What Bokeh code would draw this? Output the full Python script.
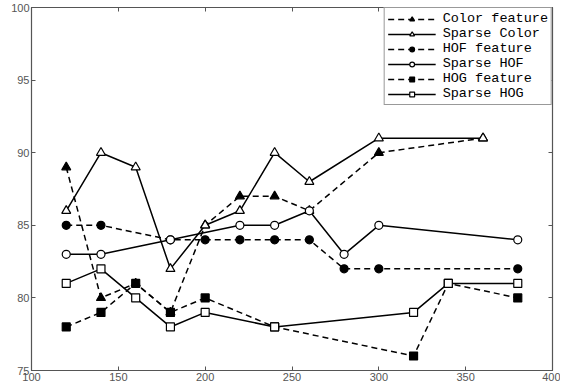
from bokeh.plotting import figure
from bokeh.models import LinearAxis, Range1d, FixedTicker
from bokeh.embed import file_html
from bokeh.resources import INLINE

# ---- data ----
color_x = [120, 140, 160, 180, 200, 220, 240, 260, 300, 360]
color_y = [89, 80, 81, 79, 85, 87, 87, 86, 90, 91]

sp_color_x = [120, 140, 160, 180, 200, 220, 240, 260, 300, 360]
sp_color_y = [86, 90, 89, 82, 85, 86, 90, 88, 91, 91]

hof_x = [120, 140, 180, 200, 220, 240, 260, 280, 300, 380]
hof_y = [85, 85, 84, 84, 84, 84, 84, 82, 82, 82]

sp_hof_x = [120, 140, 180, 220, 240, 260, 280, 300, 380]
sp_hof_y = [83, 83, 84, 85, 85, 86, 83, 85, 84]

hog_x = [120, 140, 160, 180, 200, 240, 320, 340, 380]
hog_y = [78, 79, 81, 79, 80, 78, 76, 81, 80]

sp_hog_x = [120, 140, 160, 180, 200, 240, 320, 340, 380]
sp_hog_y = [81, 82, 80, 78, 79, 78, 79, 81, 81]

x_ticks = [100, 150, 200, 250, 300, 350, 400]
y_ticks = [75, 80, 85, 90, 95, 100]

series = [
    ("Color feature", color_x, color_y, "triangle", True, "dashed"),
    ("Sparse Color", sp_color_x, sp_color_y, "triangle", False, "solid"),
    ("HOF feature", hof_x, hof_y, "circle", True, "dashed"),
    ("Sparse HOF", sp_hof_x, sp_hof_y, "circle", False, "solid"),
    ("HOG feature", hog_x, hog_y, "square", True, "dashed"),
    ("Sparse HOG", sp_hog_x, sp_hog_y, "square", False, "solid"),
]

p = figure(width=560, height=391, output_backend="svg", toolbar_location=None,
           x_range=Range1d(100, 400), y_range=Range1d(75, 100),
           min_border_left=31, min_border_right=8, min_border_top=7,
           min_border_bottom=21)
p.xgrid.visible = False
p.ygrid.visible = False
p.outline_line_color = "#555555"
p.outline_line_width = 1.2
p.background_fill_color = "white"
p.border_fill_color = "white"

for ax in (p.xaxis[0], p.yaxis[0]):
    ax.axis_line_color = "#555555"
    ax.major_tick_in = 4
    ax.major_tick_out = 0
    ax.minor_tick_line_color = None
    ax.major_tick_line_color = "#555555"
    ax.major_label_text_font = "Liberation Sans"
    ax.major_label_text_font_size = "11px"
    ax.major_label_text_color = "#555555"
    ax.major_label_standoff = 2
p.xaxis[0].ticker = FixedTicker(ticks=x_ticks)
p.yaxis[0].ticker = FixedTicker(ticks=y_ticks)

# top and right axes: ticks only
top = LinearAxis(ticker=FixedTicker(ticks=x_ticks))
right = LinearAxis(ticker=FixedTicker(ticks=y_ticks))
for ax in (top, right):
    ax.axis_line_color = "#555555"
    ax.major_tick_in = 4
    ax.major_tick_out = 0
    ax.minor_tick_line_color = None
    ax.major_tick_line_color = "#555555"
    ax.major_label_text_font_size = "0px"
    ax.major_label_text_color = None
    ax.major_label_standoff = 0
p.add_layout(top, "above")
p.add_layout(right, "right")

for name, xs, ys, marker, filled, dash in series:
    p.line(xs, ys, line_color="black", line_width=1.5,
           line_dash=("6 4" if dash == "dashed" else "solid"), legend_label=name)
    p.scatter(xs, ys, marker=marker, size=8 if marker != "triangle" else 9,
              line_color="black", line_width=1.2,
              fill_color="black" if filled else "white", legend_label=name)

lg = p.legend[0]
lg.location = "top_right"
lg.margin = 0
lg.padding = 3
lg.spacing = 0
lg.border_line_color = "#333333"
lg.border_line_width = 1.2
lg.label_text_font = "Liberation Mono"
lg.label_text_font_size = "13.5px"
lg.label_text_color = "black"
lg.label_height = 12
lg.glyph_height = 12
lg.glyph_width = 48
lg.label_standoff = 7
lg.background_fill_alpha = 1

open("out.html", "w").write(file_html(p, INLINE))
